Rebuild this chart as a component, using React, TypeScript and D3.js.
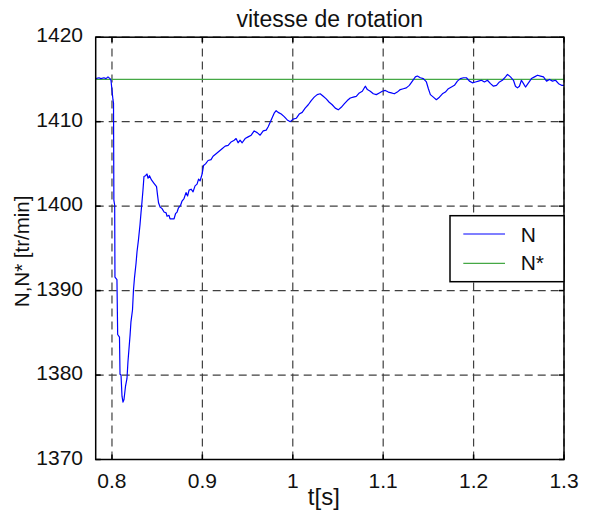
import React from "react";
import * as d3 from "d3";

// Measured rotor speed N (tr/min) against time t (s)
const timeS = [
  0.782, 0.7856, 0.7878, 0.7911, 0.7934, 0.7956, 0.7978, 0.7989, 0.8, 0.8011,
  0.8017, 0.8021, 0.803, 0.8033, 0.8055, 0.8063, 0.8083, 0.8089, 0.81, 0.8111,
  0.8122, 0.8133, 0.815, 0.8166, 0.8177, 0.82, 0.821, 0.8227, 0.8238, 0.8249,
  0.8266, 0.8277, 0.8293, 0.831, 0.8321, 0.8332, 0.8343, 0.8354, 0.8371, 0.8388,
  0.8399, 0.8415, 0.8437, 0.8465, 0.8493, 0.8504, 0.8515, 0.8532, 0.8554, 0.8576,
  0.8599, 0.8609, 0.8631, 0.8642, 0.8665, 0.8687, 0.8703, 0.872, 0.8736, 0.8759,
  0.8775, 0.8797, 0.8819, 0.8836, 0.8853, 0.8875, 0.8897, 0.8919, 0.8941, 0.8958,
  0.8975, 0.8997, 0.9013, 0.9035, 0.9063, 0.9096, 0.9118, 0.9152, 0.9185, 0.9218,
  0.9252, 0.9285, 0.9318, 0.9352, 0.9373, 0.9395, 0.9417, 0.944, 0.9473, 0.9506,
  0.954, 0.9573, 0.9606, 0.9639, 0.9673, 0.9706, 0.9728, 0.9761, 0.9794, 0.9816,
  0.9838, 0.9872, 0.9905, 0.9939, 0.9972, 1.0004, 1.0038, 1.0071, 1.0104, 1.0137,
  1.0171, 1.0204, 1.0237, 1.027, 1.0303, 1.0337, 1.037, 1.0403, 1.0436, 1.047,
  1.0503, 1.0536, 1.0569, 1.0603, 1.0636, 1.0669, 1.0702, 1.0736, 1.0769, 1.0802,
  1.0825, 1.0857, 1.0891, 1.0924, 1.0957, 1.099, 1.1023, 1.1057, 1.109, 1.1123,
  1.1156, 1.1189, 1.1223, 1.1256, 1.1289, 1.1323, 1.1356, 1.1378, 1.1411, 1.1444,
  1.1478, 1.15, 1.1522, 1.1555, 1.1588, 1.1622, 1.1655, 1.1688, 1.1721, 1.1755,
  1.1788, 1.1821, 1.1854, 1.1888, 1.1921, 1.1954, 1.1987, 1.202, 1.2054, 1.2087,
  1.212, 1.2153, 1.2187, 1.222, 1.2253, 1.2286, 1.2319, 1.2353, 1.2375, 1.2408,
  1.2441, 1.2463, 1.2485, 1.2507, 1.2529, 1.2552, 1.2574, 1.2607, 1.264, 1.2674,
  1.2707, 1.274, 1.2773, 1.2807, 1.284, 1.2873, 1.2906, 1.294, 1.2973, 1.3,
];

const speedN = [
  1415.1, 1415.2, 1415.1, 1415.2, 1415.1, 1415.3, 1415.1, 1414.9, 1413.75, 1412.6,
  1412.2, 1400.7, 1400.1, 1391.6, 1391.3, 1384.8, 1384.5, 1380.1, 1380.0, 1377.5,
  1376.8, 1377.1, 1378.7, 1379.6, 1381.6, 1384.7, 1386.3, 1387.7, 1390.1, 1391.5,
  1393.2, 1394.6, 1396.0, 1397.8, 1399.2, 1400.5, 1401.9, 1403.5, 1403.6, 1403.8,
  1403.3, 1403.6, 1403.1, 1402.7, 1402.3, 1401.3, 1400.4, 1399.9, 1399.7, 1399.3,
  1399.2, 1398.8, 1398.9, 1398.5, 1398.5, 1398.5, 1399.1, 1399.3, 1399.8, 1400.1,
  1400.6, 1400.9, 1401.6, 1401.2, 1401.9, 1402.0, 1401.7, 1402.4, 1402.6, 1403.2,
  1403.0, 1403.8, 1404.8, 1405.0, 1405.4, 1405.5, 1405.9, 1406.2, 1406.5, 1406.8,
  1407.1, 1407.2, 1407.6, 1407.8, 1408.0, 1407.5, 1407.8, 1407.5, 1408.0, 1408.2,
  1408.4, 1408.9, 1408.7, 1408.4, 1408.9, 1409.0, 1409.4, 1410.2, 1411.0, 1411.3,
  1411.1, 1410.9, 1410.6, 1410.2, 1410.0, 1410.3, 1410.4, 1410.9, 1411.1, 1411.6,
  1412.0, 1412.5, 1412.9, 1413.2, 1413.3, 1413.0, 1412.7, 1412.3, 1412.0, 1411.6,
  1411.4, 1411.7, 1412.1, 1412.5, 1412.8, 1412.9, 1413.0, 1413.4, 1413.6, 1414.2,
  1413.8, 1413.6, 1413.3, 1413.2, 1413.4, 1413.6, 1413.7, 1413.5, 1413.4, 1413.3,
  1413.5, 1413.8, 1413.9, 1414.0, 1414.3, 1414.8, 1415.3, 1415.4, 1415.2, 1415.1,
  1414.7, 1413.9, 1413.2, 1412.9, 1412.6, 1412.9, 1413.3, 1413.5, 1413.9, 1414.1,
  1414.3, 1414.8, 1415.1, 1415.2, 1415.2, 1414.8, 1414.6, 1414.7, 1414.8, 1414.9,
  1414.7, 1414.9, 1414.5, 1414.2, 1414.3, 1414.7, 1414.9, 1415.3, 1415.6, 1415.3,
  1414.9, 1414.2, 1414.0, 1414.2, 1414.9, 1414.5, 1414.1, 1414.6, 1415.1, 1415.3,
  1415.5, 1415.4, 1415.3, 1414.8, 1415.0, 1414.8, 1414.9, 1414.5, 1414.3, 1414.3,
];

// Speed reference N*
const refN = 1415;

const xTicks = [0.8, 0.9, 1, 1.1, 1.2, 1.3];
const yTicks = [1370, 1380, 1390, 1400, 1410, 1420];
const legendLabels = ["N", "N*"];

const W = 590;
const H = 516;
const left = 95.7;
const right = 564;
const top = 37.2;
const bottom = 459.5;

const FONT = "'Liberation Sans', Arial, Helvetica, sans-serif";
const BLUE = "#0000ff";
const GREEN = "#45a845";

export default function App() {
  const x = d3.scaleLinear().domain([0.782, 1.3]).range([left, right]);
  const y = d3.scaleLinear().domain([1370, 1420]).range([bottom, top]);

  const pts = timeS.map((t, i) => [t, speedN[i]] as [number, number]);
  const line = d3
    .line<[number, number]>()
    .x((d) => x(d[0]))
    .y((d) => y(d[1]));

  const refLine = line([
    [x.domain()[0], refN],
    [x.domain()[1], refN],
  ]);

  const tickLen = 5;
  const legendColors = [BLUE, GREEN];

  return (
    <svg
      width={W}
      height={H}
      style={{ position: "absolute", left: 0, top: 0, background: "#fff" }}
      fontFamily={FONT}
    >
      <rect x={0} y={0} width={W} height={H} fill="#fff" />
      <defs>
        <clipPath id="plotArea">
          <rect x={left} y={top} width={right - left} height={bottom - top} />
        </clipPath>
      </defs>

      {/* dashed grid */}
      <g stroke="#404040" strokeWidth={1.2} strokeDasharray="8,5">
        {xTicks.map((t) => (
          <line key={"gx" + t} x1={x(t)} x2={x(t)} y1={bottom} y2={top} />
        ))}
        {yTicks.map((v) => (
          <line key={"gy" + v} x1={left} x2={right} y1={y(v)} y2={y(v)} />
        ))}
      </g>

      {/* curves */}
      <g clipPath="url(#plotArea)" fill="none">
        <path d={refLine ?? ""} stroke={GREEN} strokeWidth={1.2} />
        <path d={line(pts) ?? ""} stroke={BLUE} strokeWidth={1.2} strokeLinejoin="round" />
      </g>

      {/* axes box and inward ticks */}
      <g stroke="#000" strokeWidth={1.5}>
        <rect x={left} y={top} width={right - left} height={bottom - top} fill="none" />
        {xTicks.map((t) => (
          <g key={"tx" + t}>
            <line x1={x(t)} x2={x(t)} y1={bottom} y2={bottom - tickLen} />
            <line x1={x(t)} x2={x(t)} y1={top} y2={top + tickLen} />
          </g>
        ))}
        {yTicks.map((v) => (
          <g key={"ty" + v}>
            <line x1={left} x2={left + tickLen} y1={y(v)} y2={y(v)} />
            <line x1={right} x2={right - tickLen} y1={y(v)} y2={y(v)} />
          </g>
        ))}
      </g>

      {/* tick labels */}
      <g fontSize={21} fill="#111">
        {xTicks.map((t) => (
          <text key={"lx" + t} x={x(t)} y={488} textAnchor="middle">
            {d3.format("~g")(t)}
          </text>
        ))}
        {yTicks.map((v) => (
          <text key={"ly" + v} x={83} y={y(v) + 5} textAnchor="end">
            {v}
          </text>
        ))}
      </g>

      {/* title and axis labels */}
      <text x={(left + right) / 2} y={27} textAnchor="middle" fontSize={23} fill="#111">
        vitesse de rotation
      </text>
      <text x={(left + right) / 2 - 6} y={505} textAnchor="middle" fontSize={24} fill="#111">
        t[s]
      </text>
      <text
        transform={`translate(29, ${(top + bottom) / 2 + 3}) rotate(-90)`}
        textAnchor="middle"
        fontSize={20.5}
        fill="#111"
      >
        N,N* [tr/min]
      </text>

      {/* legend */}
      <g>
        <rect x={450} y={215.7} width={right - 450} height={66} fill="#fff" stroke="#000" strokeWidth={1.5} />
        {legendLabels.map((lab, i) => (
          <g key={lab}>
            <line
              x1={463.3}
              x2={505}
              y1={234 + i * 29.3}
              y2={234 + i * 29.3}
              stroke={legendColors[i]}
              strokeWidth={1.2}
            />
            <text x={520.7} y={241.7 + i * 28.5} fontSize={21} fill="#111">
              {lab}
            </text>
          </g>
        ))}
      </g>
    </svg>
  );
}
